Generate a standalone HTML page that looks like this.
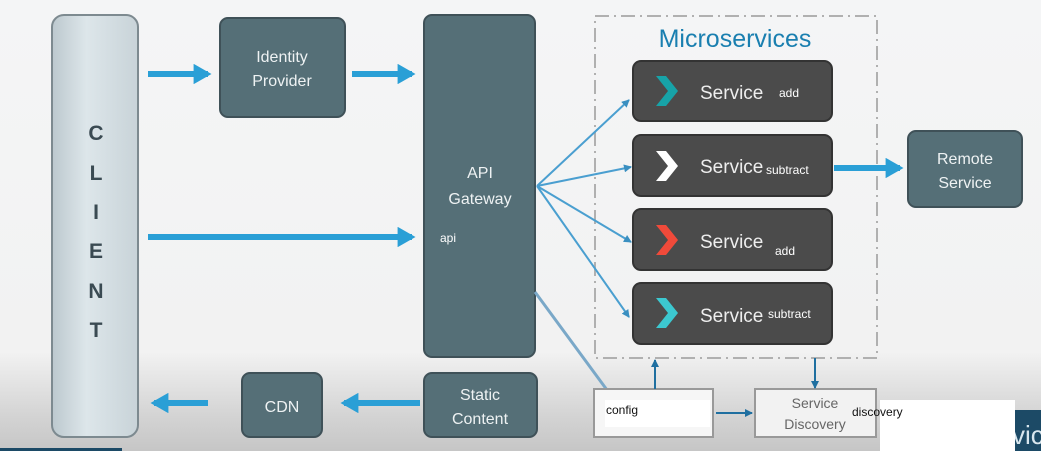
<!DOCTYPE html><html><head><style>body{margin:0}svg{display:block;font-family:"Liberation Sans",sans-serif}</style></head><body>
<svg width="1041" height="451" viewBox="0 0 1041 451" xmlns="http://www.w3.org/2000/svg">
<defs>
<linearGradient id="bg" x1="0" y1="0" x2="0" y2="1"><stop offset="0" stop-color="#f4f5f6"/><stop offset="0.78" stop-color="#f2f2f2"/><stop offset="0.92" stop-color="#d4d4d4"/><stop offset="1" stop-color="#c6c6c6"/></linearGradient>
<linearGradient id="cl" x1="0" y1="0" x2="1" y2="0"><stop offset="0" stop-color="#bcc8ce"/><stop offset="0.4" stop-color="#dde6ea"/><stop offset="1" stop-color="#c8d3d8"/></linearGradient>
<marker id="ah" markerWidth="3" markerHeight="3.4" refX="2.4" refY="1.7" orient="auto"><path d="M0,0L3,1.7L0,3.4z" fill="#2a9fd6"/></marker>
<marker id="ta" markerWidth="8" markerHeight="8" refX="7" refY="4" orient="auto" markerUnits="userSpaceOnUse"><path d="M0,0L8,4L0,8z" fill="#3a8fc0"/></marker>
<marker id="da" markerWidth="8" markerHeight="8" refX="7" refY="4" orient="auto" markerUnits="userSpaceOnUse"><path d="M0,0L8,4L0,8z" fill="#1f6fa0"/></marker>
</defs>
<rect width="1041" height="451" fill="url(#bg)"/>
<rect x="52" y="15" width="86" height="422" rx="12" fill="url(#cl)" stroke="#7d8a90" stroke-width="2"/>
<g font-size="21" fill="#3a4a52" text-anchor="middle" font-weight="bold">
<text x="96" y="140">C</text><text x="96" y="180">L</text><text x="96" y="219">I</text><text x="96" y="258">E</text><text x="96" y="298">N</text><text x="96" y="337">T</text></g>
<g fill="#556f77" stroke="#3f5158" stroke-width="2">
<rect x="220" y="18" width="125" height="99" rx="8"/>
<rect x="424" y="15" width="111" height="342" rx="8"/>
<rect x="424" y="373" width="113" height="64" rx="8"/>
<rect x="242" y="373" width="80" height="64" rx="8"/>
<rect x="908" y="131" width="114" height="76" rx="8"/></g>
<g fill="#eef2f3" font-size="16" text-anchor="middle">
<text x="282" y="62">Identity</text><text x="282" y="86">Provider</text>
<text x="480" y="178">API</text><text x="480" y="204">Gateway</text>
<text x="480" y="400">Static</text><text x="480" y="424">Content</text>
<text x="282" y="412">CDN</text>
<text x="965" y="164">Remote</text><text x="965" y="188">Service</text></g>
<text x="440" y="242" fill="#fff" font-size="12">api</text>
<rect x="595" y="16" width="282" height="342" fill="none" stroke="#b0b0b0" stroke-width="2" stroke-dasharray="14,5,2,5"/>
<text x="735" y="47" text-anchor="middle" fill="#1a7fb0" font-size="25">Microservices</text>
<g fill="#4b4b4b" stroke="#333" stroke-width="2">
<rect x="633" y="61" width="199" height="60" rx="8"/><rect x="633" y="135" width="199" height="61" rx="8"/>
<rect x="633" y="209" width="199" height="61" rx="8"/><rect x="633" y="283" width="199" height="61" rx="8"/></g>
<path d="M656,76h10l12,15l-12,15h-10l12,-15z" fill="#17a3a8"/>
<path d="M656,151h10l12,15l-12,15h-10l12,-15z" fill="#fff"/>
<path d="M656,225h10l12,15l-12,15h-10l12,-15z" fill="#f04a3a"/>
<path d="M656,298h10l12,15l-12,15h-10l12,-15z" fill="#3cc8d0"/>
<g fill="#eee" font-size="19"><text x="700" y="99">Service</text><text x="700" y="173">Service</text><text x="700" y="248">Service</text><text x="700" y="322">Service</text></g>
<g fill="#fff" font-size="12"><text x="779" y="97">add</text><text x="766" y="174">subtract</text><text x="775" y="255">add</text><text x="768" y="318">subtract</text></g>
<g stroke="#2a9fd6" stroke-width="6" fill="none" marker-end="url(#ah)">
<line x1="148" y1="74" x2="208" y2="74"/><line x1="352" y1="74" x2="412" y2="74"/>
<line x1="148" y1="237" x2="412" y2="237"/><line x1="834" y1="168" x2="900" y2="168"/>
<line x1="208" y1="403" x2="154" y2="403"/><line x1="420" y1="403" x2="344" y2="403"/></g>
<g stroke="#4a9fd0" stroke-width="2" marker-end="url(#ta)">
<line x1="537" y1="186" x2="629" y2="100"/><line x1="537" y1="186" x2="631" y2="167"/>
<line x1="537" y1="186" x2="631" y2="242"/><line x1="537" y1="186" x2="629" y2="317"/></g>
<line x1="535" y1="292" x2="607" y2="390" stroke="#7aa8c8" stroke-width="3"/>
<rect x="594" y="389" width="119" height="48" fill="#f6f6f6" stroke="#999" stroke-width="2"/>
<rect x="605" y="400" width="105" height="27" fill="#fff"/>
<text x="606" y="414" font-size="12" fill="#111">config</text>
<rect x="755" y="389" width="121" height="48" fill="#f2f2f2" stroke="#999" stroke-width="2"/>
<text x="815" y="408" text-anchor="middle" font-size="14" fill="#666">Service</text>
<text x="815" y="429" text-anchor="middle" font-size="14" fill="#666">Discovery</text>
<g stroke="#1f6fa0" stroke-width="2" marker-end="url(#da)">
<line x1="655" y1="389" x2="655" y2="360"/><line x1="815" y1="358" x2="815" y2="388"/><line x1="716" y1="413" x2="752" y2="413"/></g>
<rect x="1015" y="410" width="26" height="41" fill="#1c4a66"/>
<text x="1012" y="444" font-size="26" fill="#d8e6ee">vic</text>
<rect x="880" y="400" width="135" height="51" fill="#fff"/>
<text x="852" y="416" font-size="12" fill="#111">discovery</text>
<rect x="0" y="448" width="122" height="3" fill="#1c4a66"/>
</svg></body></html>
